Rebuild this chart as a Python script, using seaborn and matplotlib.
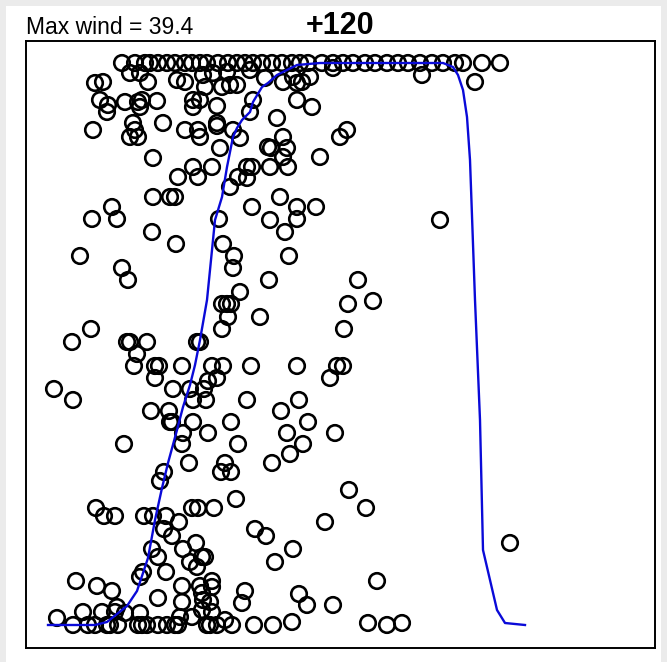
import numpy as np
import pandas as pd
import seaborn as sns
import matplotlib.pyplot as plt
from matplotlib.patches import Rectangle

top_x = [96, 109, 119, 124, 132, 141, 149, 159, 166, 174, 181, 192, 202, 211, 219,
         227, 236, 246, 256, 266, 274, 282, 296, 307, 317, 327, 339, 349, 361, 372,
         382, 394, 406, 417, 429, 437, 456, 474]
top_y = [562] * len(top_x)

mid_pts = [
    (104, 552), (114, 552), (122, 543), (69, 542), (77, 543), (151, 545), (159, 543),
    (177, 550), (187, 552), (179, 538), (196, 538), (204, 540), (211, 540), (201, 553),
    (224, 555), (239, 547), (257, 543), (271, 542), (276, 543), (284, 548), (267, 548),
    (307, 557), (396, 550), (449, 543),
    (74, 525), (82, 520), (81, 513), (99, 523), (112, 523), (116, 525), (114, 518),
    (131, 524), (167, 525), (174, 525), (167, 518), (191, 519), (227, 525), (224, 513),
    (271, 525), (286, 518),
    (251, 507), (67, 495), (107, 502), (109, 495), (104, 488), (112, 488), (137, 502),
    (159, 495), (172, 495), (174, 488), (191, 502), (191, 499), (207, 495), (214, 487),
    (257, 488), (314, 488), (321, 495), (242, 478), (245, 477), (261, 477), (257, 468),
    (194, 477), (127, 467), (294, 468),
    (167, 458), (186, 458), (152, 448), (172, 448), (221, 458), (226, 458), (212, 448),
    (221, 447), (204, 438), (244, 458), (262, 458), (127, 428), (144, 428), (149, 428),
    (254, 428),
    (86, 418), (66, 406), (91, 406), (193, 406), (226, 418), (271, 418), (290, 418),
    (244, 405), (271, 406), (414, 405), (126, 393), (259, 393), (150, 381), (197, 381),
    (54, 369), (208, 369), (263, 369),
    (96, 357), (207, 357), (102, 345), (243, 345), (332, 345), (214, 333), (196, 321),
    (201, 321), (205, 321), (322, 321), (347, 324), (202, 308), (234, 308), (65, 296),
    (196, 296), (318, 296),
    (46, 283), (101, 283), (104, 283), (121, 283), (171, 283), (174, 283), (111, 271),
    (108, 259), (129, 259), (133, 259), (156, 259), (186, 259), (197, 259), (225, 259),
    (271, 259), (311, 259), (317, 259), (304, 247), (129, 247), (182, 244), (191, 247),
    (28, 236), (147, 236), (164, 236), (178, 236), (47, 225), (167, 225), (180, 225),
    (221, 225), (273, 225),
    (125, 214), (143, 214), (255, 214), (144, 203), (146, 203), (167, 203), (205, 203),
    (282, 203), (157, 192), (182, 192), (261, 192), (309, 192), (98, 181), (156, 181),
    (212, 181), (277, 181), (264, 171), (163, 162), (199, 162), (246, 162), (138, 153),
    (195, 153), (205, 153),
    (134, 144), (210, 126), (323, 135), (70, 117), (78, 109), (89, 109), (118, 109),
    (127, 109), (140, 109), (153, 103), (166, 117), (172, 117), (188, 117), (340, 117),
    (299, 103), (138, 96), (146, 89), (229, 96), (240, 89), (484, 82), (267, 76),
    (126, 76), (132, 68), (157, 76), (170, 82), (164, 63), (171, 58), (176, 68),
    (179, 68), (249, 63),
    (117, 53), (114, 48), (140, 53), (50, 44), (71, 39), (86, 34), (156, 39), (174, 39),
    (186, 44), (186, 38), (219, 34), (351, 44), (273, 31), (281, 20), (307, 20),
    (132, 27), (156, 23), (176, 32), (177, 25), (184, 23), (216, 22),
    (91, 18), (57, 13), (76, 13), (89, 13), (99, 12), (114, 12), (166, 8), (176, 15),
    (186, 13), (31, 7), (154, 8), (199, 5),
]

bottom_x = [47, 62, 69, 81, 84, 92, 112, 116, 121, 132, 141, 149, 152, 181, 184, 191,
            206, 228, 247, 266, 342, 361, 376]
bottom_y = [0] * 19 + [3, 2, 0, 2]

# fitted curve
curve_x = [22, 69, 81, 91, 101, 111, 117, 122, 129, 136, 142, 151, 157, 164, 169, 174,
           181, 187, 189, 196, 201, 207, 211, 216, 224, 227, 236, 242, 251, 261, 271,
           294, 417, 427, 432, 437, 441, 444, 449, 454, 457, 464, 471, 479, 499]
curve_y = [0, 0, 3, 11, 19, 34, 52, 67, 105, 137, 162, 195, 218, 240, 260, 285,
           325, 385, 405, 428, 458, 488, 497, 505, 513, 523, 538, 542, 550, 555, 560,
           562, 562, 558, 550, 535, 508, 465, 325, 205, 75, 45, 15, 2, 0]

pts = pd.DataFrame({
    "x": top_x + [p[0] for p in mid_pts] + bottom_x,
    "y": top_y + [p[1] for p in mid_pts] + bottom_y,
})
curve = pd.DataFrame({"x": curve_x, "y": curve_y})

fig = plt.figure(figsize=(6.67, 6.62), dpi=100)
fig.patch.set_facecolor("#ebebeb")
fig.patches.append(Rectangle((6 / 667, 0), 655 / 667, 656 / 662, transform=fig.transFigure,
                             facecolor="white", edgecolor="none", zorder=-10))
ax = fig.add_axes([26 / 667, 14 / 662, 629 / 667, 607 / 662])
ax.set_facecolor("white")

sns.scatterplot(data=pts, x="x", y="y", ax=ax, marker="o", s=125,
                facecolors="none", edgecolor="black", linewidth=1.9)
sns.lineplot(data=curve, x="x", y="y", ax=ax, sort=False, estimator=None,
             color="#0a0ad8", linewidth=1.7)

ax.set_xlim(0, 629)
ax.set_ylim(-23, 584)
ax.set_xticks([])
ax.set_yticks([])
ax.set_xlabel("")
ax.set_ylabel("")
for sp in ax.spines.values():
    sp.set_linewidth(1.4)
    sp.set_color("black")

ax.set_title("Max wind = 39.4", loc="left", fontsize=16.5, family="Liberation Sans", pad=5)
ax.set_title("+120", loc="center", fontsize=22, fontweight="bold",
             family="Liberation Sans", pad=3)

fig.savefig("out.png", dpi=100, facecolor=fig.get_facecolor())
